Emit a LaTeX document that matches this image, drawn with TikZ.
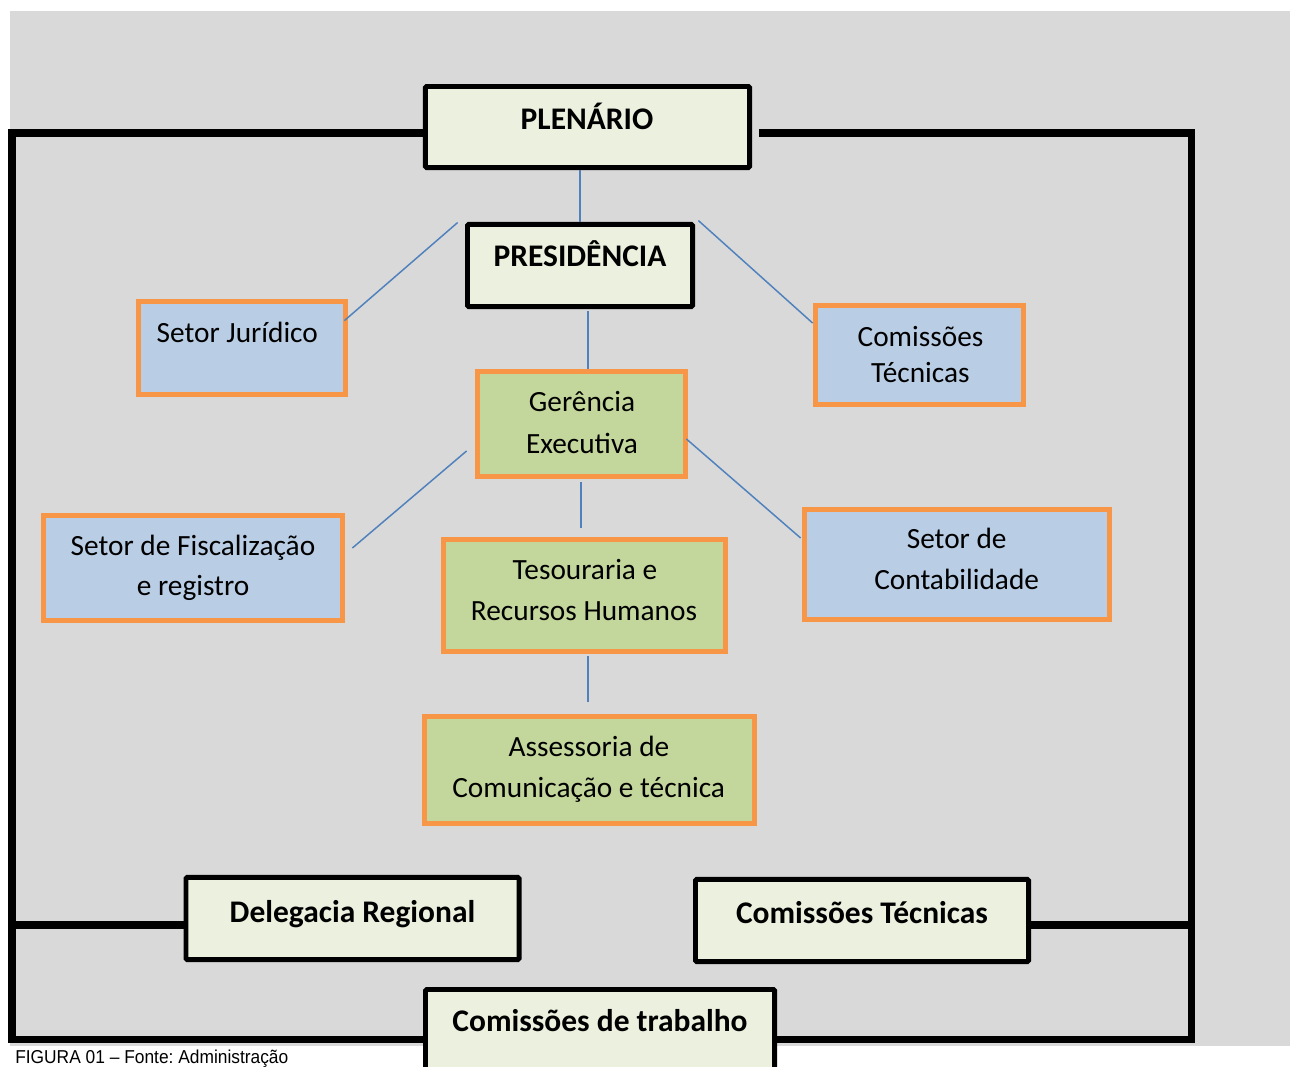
\documentclass[tikz,border=0pt]{standalone}
\usepackage{fontspec}
\setmainfont{Carlito}
\newfontfamily\capfont[FakeStretch=0.93]{Liberation Sans}
\usetikzlibrary{calc,backgrounds}
\definecolor{bggray}{HTML}{D9D9D9}
\definecolor{cream}{HTML}{EBF1DE}
\definecolor{boxblue}{HTML}{B9CDE5}
\definecolor{boxgreen}{HTML}{C3D69B}
\definecolor{boxorange}{HTML}{F79646}
\definecolor{linkblue}{HTML}{4F81BD}
\begin{document}
\frenchspacing
\begin{tikzpicture}[x=0.75pt,y=-0.75pt,
  frame/.style={line width=5.4pt, line join=miter},
  blackbox/.style={draw=black, line width=3.6pt, fill=cream, rounded corners=1pt, inner sep=0pt},
  orangebox/.style={draw=boxorange, line width=3.6pt, inner sep=0pt},
  bluebox/.style={orangebox, fill=boxblue},
  greenbox/.style={orangebox, fill=boxgreen},
  link/.style={draw=linkblue, line width=1.1pt},
  txt/.style={anchor=base, inner sep=0pt, font=\fontsize{22}{26}\selectfont},
  btxt/.style={anchor=base, inner sep=0pt, font=\fontsize{23.6}{28}\selectfont\bfseries},
]
\useasboundingbox (0,0) rectangle (1290,1067);
\clip (0,0) rectangle (1290,1067);

% boxes
\node[blackbox, minimum width=243.2pt, minimum height=60.9pt] (plen) at (587.5,127) {};
\node[blackbox, minimum width=168.9pt, minimum height=61.7pt] (pres) at (580,265.5) {};
\node[bluebox, minimum width=155.4pt, minimum height=69.9pt] (jur) at (242,348) {};
\node[bluebox, minimum width=156.2pt, minimum height=74.4pt] (comt) at (919.5,355) {};
\node[greenbox, minimum width=156.2pt, minimum height=78.9pt] (ger) at (581.5,424) {};
\node[bluebox, minimum width=224.4pt, minimum height=78.9pt] (fisc) at (193,568) {};
\node[greenbox, minimum width=211.7pt, minimum height=84.2pt] (tes) at (584.5,595.5) {};
\node[bluebox, minimum width=228.9pt, minimum height=82.7pt] (cont) at (957,564.5) {};
\node[greenbox, minimum width=247.7pt, minimum height=80.4pt] (ass) at (589.5,770) {};
\node[blackbox, minimum width=249.9pt, minimum height=61.7pt] (del) at (352.5,918.5) {};
\node[blackbox, minimum width=249.9pt, minimum height=61.7pt] (comb) at (862,920.5) {};
\node[blackbox, minimum width=261.9pt, minimum height=93.9pt] (trab) at (600,1052) {};

% frame (behind the boxes)
\coordinate (ftl) at (12,133);
\coordinate (ftr) at (1191.5,133);
\coordinate (fbl) at (12,1039.5);
\coordinate (fbr) at (1191.5,1039.5);
\coordinate (fml) at (12,925);
\coordinate (fmr) at (1191.5,925);
\begin{scope}[on background layer]
\fill[bggray] (10,11) rectangle (1290,1045.5);
\draw[frame] (plen.west |- ftl) -- (ftl) -- (fbl) -- (trab.west |- fbl);
\draw[frame] ($(plen.east |- ftr)+(7,0)$) -- (ftr) -- (fbr) -- (trab.east |- fbr);
\draw[frame] (fml) -- (del.west |- fml);
\draw[frame] (fmr) -- (comb.east |- fmr);
\end{scope}

% texts
\node[btxt] (plenT) at (587,129.3) {PLENÁRIO};
\node[btxt] (presT) at (580,266.7) {PRESIDÊNCIA};
\node[txt] (jurT) at (237.3,342.3) {Setor Jurídico};
\node[txt] (comtT1) at (920.5,346.7) {Comissões};
\node[txt] (comtT2) at (920.3,382.3) {Técnicas};
\node[txt] (gerT1) at (582,411.7) {Gerência};
\node[txt] (gerT2) at (582,453.3) {Executiva};
\node[txt] (fiscT1) at (193,555) {Setor de Fiscalização};
\node[txt] (fiscT2) at (193,595.7) {e registro};
\node[txt] (tesT1) at (585,579.3) {Tesouraria e};
\node[txt] (tesT2) at (584,620.7) {Recursos Humanos};
\node[txt] (contT1) at (956.7,548.3) {Setor de};
\node[txt] (contT2) at (956.7,589.3) {Contabilidade};
\node[txt] (assT1) at (589,756.7) {Assessoria de};
\node[txt] (assT2) at (588.7,797.3) {Comunicação e técnica};
\node[btxt] (delT) at (352.5,922.5) {Delegacia Regional};
\node[btxt] (combT) at (862,923) {Comissões Técnicas};
\node[btxt] (trabT) at (600,1031) {Comissões de trabalho};
\node[anchor=base west, inner sep=0pt, font=\capfont\fontsize{14}{16}\selectfont] (cap) at (15,1063.5) {FIGURA 01 – Fonte: Administração};

% connectors
\draw[link] (pres.north |- plen.south) -- (pres.north);
\draw[link] ($(pres.north west)+(-7.4,0.6)$) -- ($(jur.north east)+(-3.6,21.6)$);
\draw[link] ($(pres.north east)+(3.4,-1.4)$) -- ($(comt.west)+(-0.4,-32)$);
\draw[link] ($(pres.south)+(8,2.4)$) coordinate (pg) -- (pg |- ger.north);
\draw[link] ($(ger.south)+(-0.5,3.4)$) -- ($(tes.north)+(-3.5,-9.4)$);
\draw[link] ($(ger.west)+(-8.4,27)$) -- ($(fisc.east)+(7.4,-20)$);
\draw[link] ($(ger.east)+(-1.6,15)$) -- ($(cont.west)+(-1.4,-26.5)$);
\draw[link] ($(tes.south)+(3.5,2.4)$) -- ($(ass.north)+(-1.5,-12.4)$);
\end{tikzpicture}
\end{document}
